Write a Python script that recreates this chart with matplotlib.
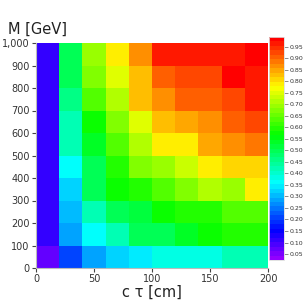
import colorsys

import numpy as np
import matplotlib
matplotlib.use("Agg")
from matplotlib import pyplot as plt
from matplotlib.colors import ListedColormap, Normalize
from matplotlib.ticker import FuncFormatter

# bin edges
ctau_edges = [0, 20, 40, 60, 80, 100, 120, 140, 160, 180, 200]
mass_edges = [0, 100, 200, 300, 400, 500, 600, 700, 800, 900, 1000]

# efficiency per bin, rows = mass bins (bottom to top), cols = c tau bins
eff_m0 = [0.07, 0.21, 0.28, 0.32, 0.35, 0.39, 0.39, 0.39, 0.42, 0.43]
eff_m1 = [0.11, 0.28, 0.37, 0.43, 0.49, 0.50, 0.53, 0.58, 0.60, 0.60]
eff_m2 = [0.11, 0.31, 0.43, 0.49, 0.51, 0.57, 0.60, 0.60, 0.64, 0.64]
eff_m3 = [0.11, 0.33, 0.49, 0.58, 0.60, 0.64, 0.68, 0.71, 0.69, 0.78]
eff_m4 = [0.11, 0.37, 0.50, 0.60, 0.67, 0.69, 0.73, 0.78, 0.81, 0.81]
eff_m5 = [0.11, 0.42, 0.53, 0.64, 0.72, 0.79, 0.79, 0.85, 0.87, 0.89]
eff_m6 = [0.11, 0.43, 0.57, 0.68, 0.75, 0.82, 0.85, 0.86, 0.91, 0.93]
eff_m7 = [0.11, 0.46, 0.64, 0.72, 0.83, 0.86, 0.91, 0.91, 0.93, 0.97]
eff_m8 = [0.11, 0.50, 0.67, 0.76, 0.82, 0.91, 0.93, 0.93, 0.98, 0.97]
eff_m9 = [0.11, 0.50, 0.69, 0.79, 0.87, 0.96, 0.97, 0.97, 0.97, 0.98]

cbar_ticks = [0.05, 0.10, 0.15, 0.20, 0.25, 0.30, 0.35, 0.40, 0.45, 0.50,
              0.55, 0.60, 0.65, 0.70, 0.75, 0.80, 0.85, 0.90, 0.95]
z_min, z_max = 0.024, 0.993


def pretty_palette(n=50):
    """ violet -> red rainbow, fixed lightness/saturation """
    cols = []
    for i in range(n):
        hue = 280.0 - (i + 1) * 280.0 / n
        cols.append(colorsys.hls_to_rgb(hue / 360.0, 0.5, 1.0))
    return ListedColormap(cols)


def main():
    z = np.array([eff_m0, eff_m1, eff_m2, eff_m3, eff_m4,
                  eff_m5, eff_m6, eff_m7, eff_m8, eff_m9])
    cmap = pretty_palette()

    fig = plt.figure(figsize=(3.08, 3.08), dpi=100)
    ax = fig.add_axes([36 / 308, 40 / 308, 232 / 308, 225 / 308])
    cax = fig.add_axes([269 / 308, 48 / 308, 15 / 308, 223 / 308])

    mesh = ax.pcolormesh(ctau_edges, mass_edges, z, cmap=cmap,
                         norm=Normalize(vmin=z_min, vmax=z_max))
    ax.set_xlim(0, 200)
    ax.set_ylim(0, 1000)
    ax.set_xticks([0, 50, 100, 150, 200])
    ax.set_yticks(np.arange(0, 1001, 100))
    ax.yaxis.set_major_formatter(FuncFormatter(lambda v, p: f"{int(v):,}"))
    ax.tick_params(labelsize=7, colors="#444444", length=3, width=0.8,
                   labelcolor="#333333", pad=1.5)
    for side in ["top", "right"]:
        ax.spines[side].set_visible(False)
    for side in ["left", "bottom"]:
        ax.spines[side].set_color("#bbbbbb")

    fig.text(8 / 308, 1 - 29 / 308, "M [GeV]", fontsize=10.5,
             color="#222222", va="center", ha="left")
    fig.text(152 / 308, 1 - 292 / 308, "c \u03c4 [cm]", fontsize=10.5,
             color="#222222", va="center", ha="center")

    cb = fig.colorbar(mesh, cax=cax)
    cb.set_ticks(cbar_ticks)
    cb.ax.yaxis.set_major_formatter(FuncFormatter(lambda v, p: f"{v:.2f}"))
    cb.ax.tick_params(labelsize=4.5, colors="#777777", length=3, width=0.6,
                      labelcolor="#333333", pad=1)
    cb.outline.set_edgecolor("#dddddd")
    cb.outline.set_linewidth(0.6)

    fig.savefig("out.png", dpi=100)


if __name__ == "__main__":
    main()
